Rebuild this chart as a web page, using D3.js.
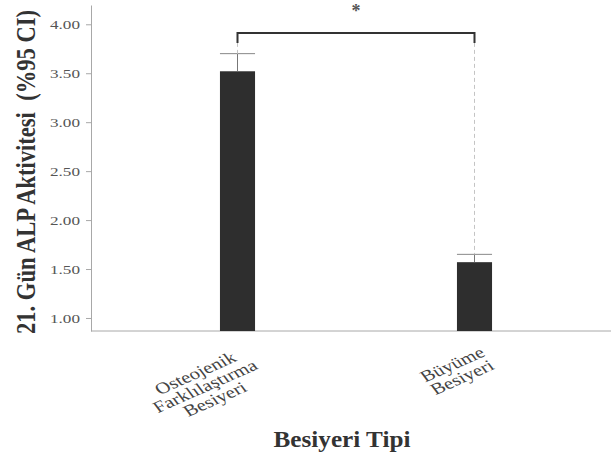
<!DOCTYPE html>
<html><head><meta charset="utf-8">
<script src="https://cdn.jsdelivr.net/npm/d3@7"></script>
<style>body{margin:0;background:#fff}svg{display:block}</style>
</head><body>
<svg id="c" width="611" height="461"></svg>
<script>
const categories = ["Osteojenik Farklılaştırma Besiyeri", "Büyüme Besiyeri"];
const categoryLines = [["Osteojenik", "Farklılaştırma", "Besiyeri"], ["Büyüme", "Besiyeri"]];
const meanValues = [3.52, 1.57];
const ciUpperValues = [3.70, 1.65];
const yTickValues = [1.00, 1.50, 2.00, 2.50, 3.00, 3.50, 4.00];
const yDomain = [0.867, 4.197];
const bracketLevel = 3.91;
const bracketTickEnd = 3.81;
const significanceLabel = "*";
const yTitle = "21. Gün ALP Aktivitesi  (%95 CI)";
const xTitle = "Besiyeri Tipi";

const W = 611, H = 461;
const plotLeft = 91, plotRight = 611, plotTop = 5, plotBottom = 331;
const svg = d3.select("#c");
const serif = "'Liberation Serif','Times New Roman',serif";

const y = d3.scaleLinear().domain(yDomain).range([plotBottom, plotTop]);
const x = d3.scaleBand().domain(categories).range([119, 593]);
const barW = x.bandwidth() * 0.148;
const cx = c => x(c) + x.bandwidth() / 2;

// y axis
const yAxis = svg.append("g").attr("transform", `translate(${plotLeft},0)`)
  .call(d3.axisLeft(y).tickValues(yTickValues).tickFormat(d3.format(".2f"))
    .tickSize(5).tickSizeOuter(0).tickPadding(6));
yAxis.select(".domain").attr("stroke", "#a8a8a8");
yAxis.selectAll(".tick line").attr("stroke", "#a8a8a8");
yAxis.selectAll(".tick text")
  .attr("font-family", serif).attr("font-size", 13).attr("fill", "#555")
  .attr("textLength", 30).attr("lengthAdjust", "spacingAndGlyphs");

// x axis line
svg.append("line").attr("x1", plotLeft).attr("x2", plotRight).attr("y1", plotBottom).attr("y2", plotBottom)
  .attr("stroke", "#a8a8a8");

// bars
svg.selectAll("rect.bar").data(categories).join("rect").attr("class", "bar")
  .attr("x", c => cx(c) - barW / 2).attr("width", barW)
  .attr("y", (c, i) => y(meanValues[i]))
  .attr("height", (c, i) => plotBottom - y(meanValues[i]))
  .attr("fill", "#2e2e2e");

// error bars (upper)
categories.forEach((c, i) => {
  svg.append("line").attr("x1", cx(c)).attr("x2", cx(c))
    .attr("y1", y(meanValues[i])).attr("y2", y(ciUpperValues[i]))
    .attr("stroke", "#777").attr("stroke-width", 1);
  svg.append("line").attr("x1", cx(c) - barW / 2).attr("x2", cx(c) + barW / 2)
    .attr("y1", y(ciUpperValues[i])).attr("y2", y(ciUpperValues[i]))
    .attr("stroke", "#888").attr("stroke-width", 1);
  svg.append("line").attr("x1", cx(c)).attr("x2", cx(c))
    .attr("y1", y(bracketTickEnd)).attr("y2", y(ciUpperValues[i]))
    .attr("stroke", "#c4c4c4").attr("stroke-width", 1).attr("stroke-dasharray", "4,3");
});

// bracket
const c1 = cx(categories[0]), c2 = cx(categories[1]);
svg.append("path")
  .attr("d", `M${c1},${y(bracketTickEnd)}V${y(bracketLevel)}H${c2}V${y(bracketTickEnd)}`)
  .attr("fill", "none").attr("stroke", "#333").attr("stroke-width", 2);
svg.append("text").attr("x", (c1 + c2) / 2).attr("y", y(bracketLevel) - 16)
  .attr("text-anchor", "middle").attr("font-family", serif).attr("font-size", 18)
  .attr("font-weight", "bold").attr("fill", "#555").text(significanceLabel);

// category labels
categories.forEach((c, i) => {
  const g = svg.append("g")
    .attr("transform", `translate(${cx(c) + 4},${plotBottom + 14}) scale(1.3,1) rotate(-30)`);
  const texts = g.selectAll("text").data(categoryLines[i]).join("text")
    .attr("font-family", serif).attr("font-size", 16).attr("fill", "#444")
    .attr("text-anchor", "middle")
    .attr("y", (d, j) => 12 + j * 15)
    .text(d => d);
  const w = d3.max(texts.nodes(), n => n.getComputedTextLength());
  texts.attr("x", -w / 2);
});

// axis titles
svg.append("text")
  .attr("transform", `translate(35,172) scale(1.2,1) rotate(-90)`)
  .attr("text-anchor", "middle").attr("font-family", serif).attr("font-weight", "bold")
  .attr("font-size", 22).attr("fill", "#333")
  .style("white-space", "pre")
  .attr("textLength", 324).attr("lengthAdjust", "spacingAndGlyphs")
  .text(yTitle);
svg.append("text")
  .attr("x", 342).attr("y", 447)
  .attr("text-anchor", "middle").attr("font-family", serif).attr("font-weight", "bold")
  .attr("font-size", 24).attr("fill", "#333")
  .attr("textLength", 137).attr("lengthAdjust", "spacingAndGlyphs")
  .text(xTitle);
</script>
</body></html>
